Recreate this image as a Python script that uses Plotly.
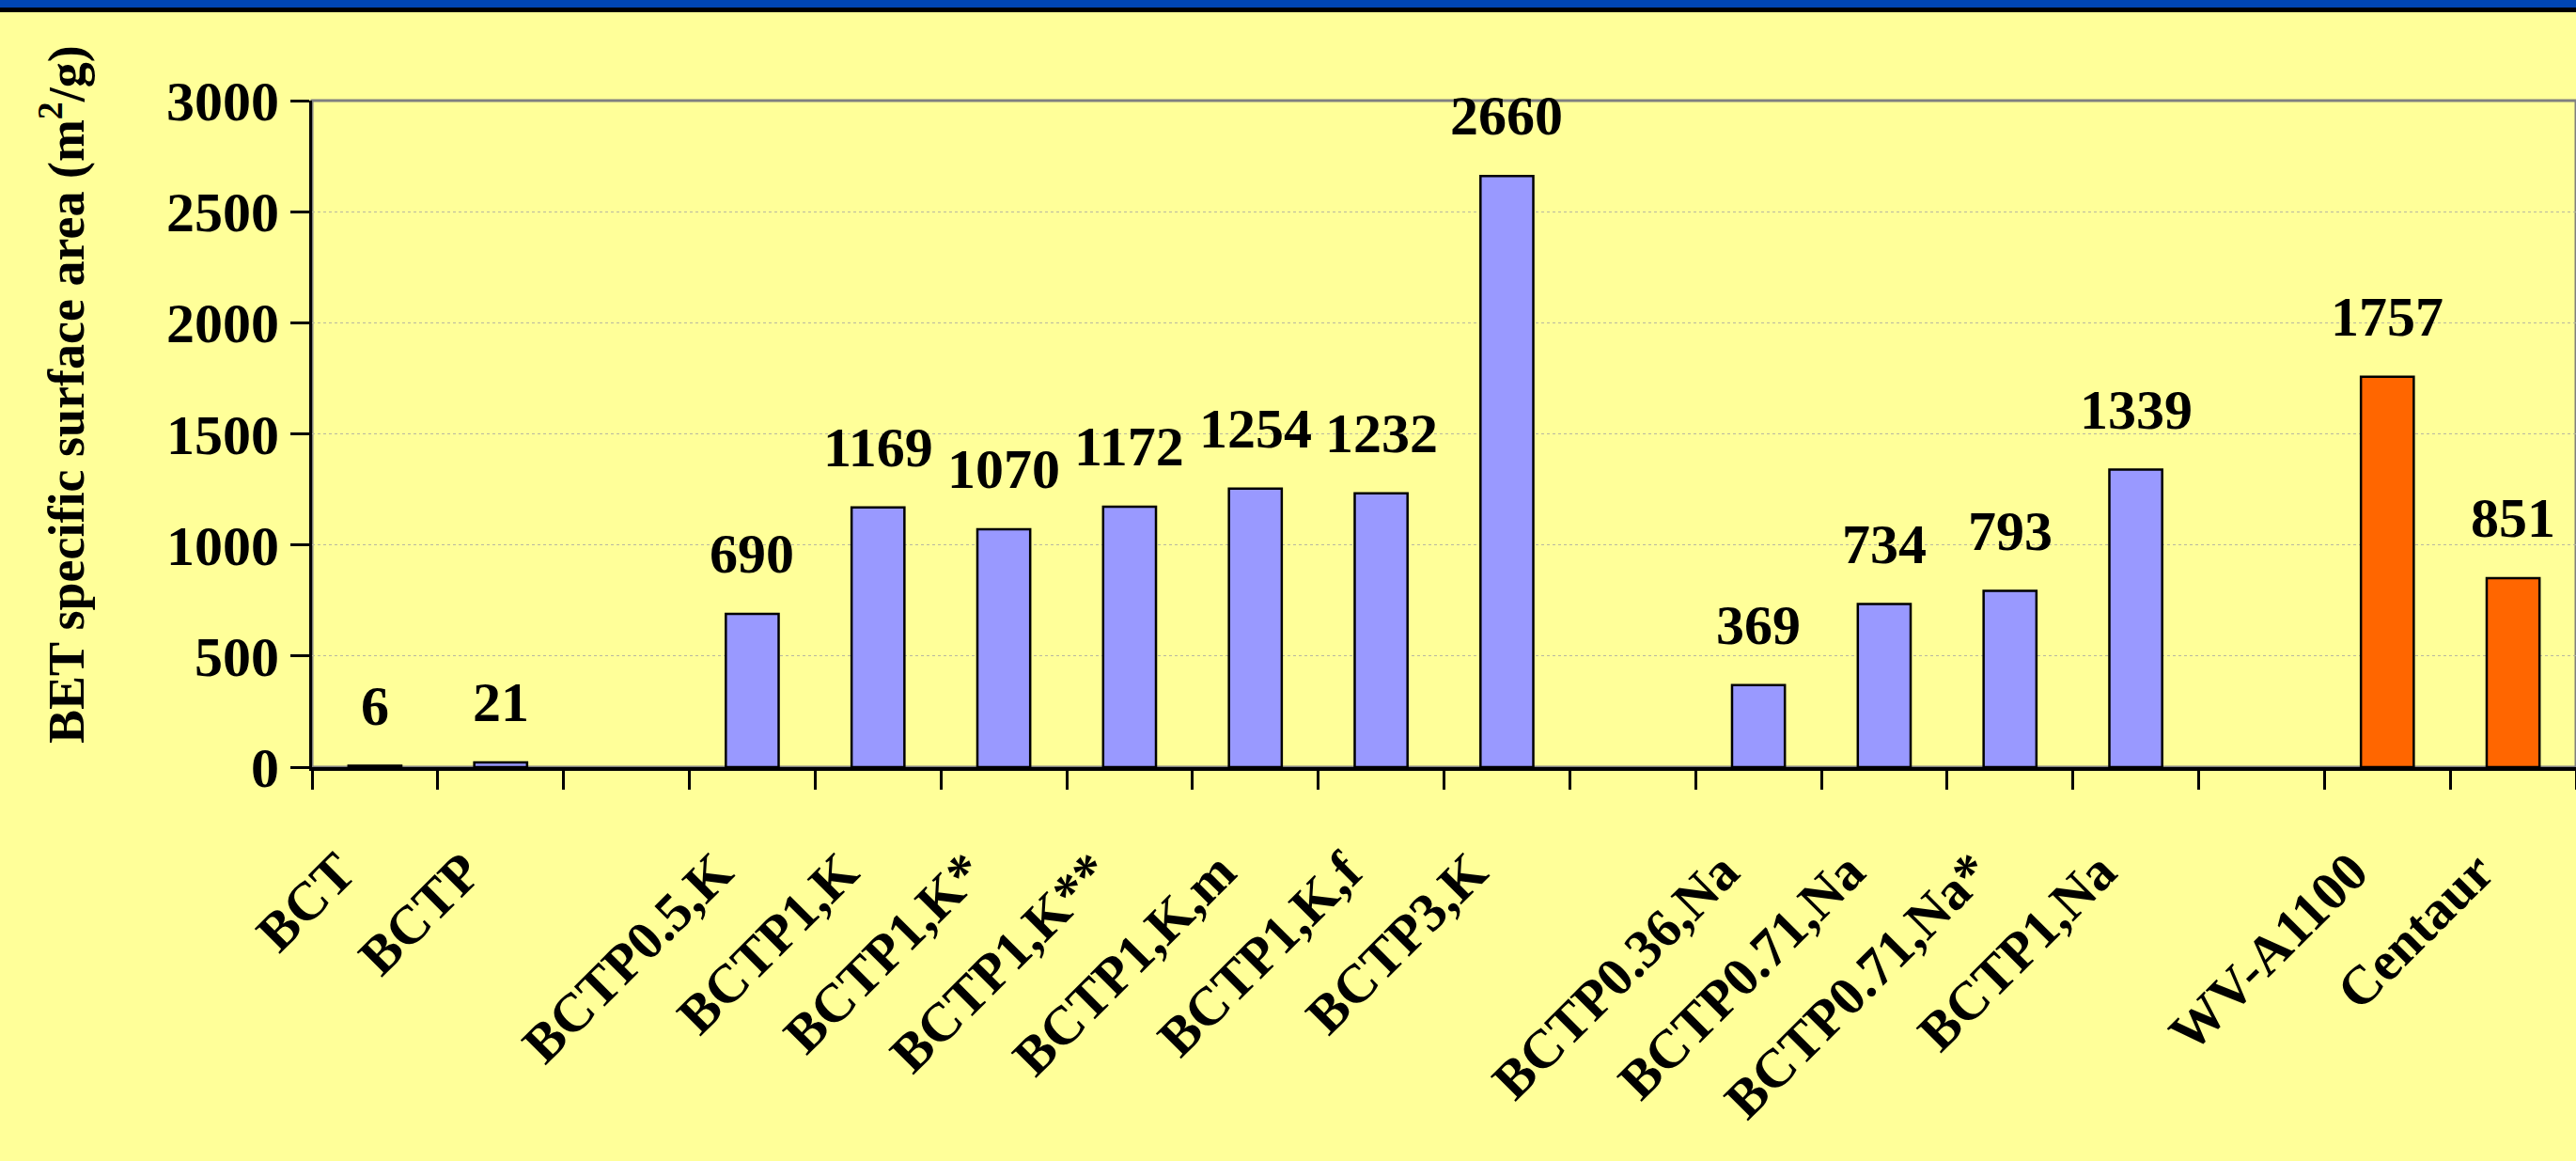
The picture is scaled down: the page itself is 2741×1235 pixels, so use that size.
import plotly.graph_objects as go

categories = ["BCT", "BCTP", " ", "BCTP0.5,K", "BCTP1,K", "BCTP1,K*", "BCTP1,K**",
              "BCTP1,K,m", "BCTP1,K,f", "BCTP3,K", "  ", "BCTP0.36,Na", "BCTP0.71,Na",
              "BCTP0.71,Na*", "BCTP1,Na", "   ", "WV-A1100", "Centaur"]
values = [6, 21, None, 690, 1169, 1070, 1172, 1254, 1232, 2660, None,
          369, 734, 793, 1339, None, 1757, 851]
groups = ["sample", "sample", None, "sample", "sample", "sample", "sample",
          "sample", "sample", "sample", None, "sample", "sample", "sample",
          "sample", None, "commercial", "commercial"]
y_ticks = [0, 500, 1000, 1500, 2000, 2500, 3000]

W, H = 2741, 1235
ML, MR, MT, MB = 332, 0, 107, 419
PW, PH = W - ML - MR, H - MT - MB

color_map = {"sample": "#9999FF", "commercial": "#FF6600", None: "#9999FF"}
bar_colors = [color_map[g] for g in groups]

FONT = "Liberation Serif, Times New Roman, serif"

fig = go.Figure()
fig.add_trace(go.Bar(
    x=categories, y=values,
    marker=dict(color=bar_colors, line=dict(color="black", width=2.5)),
    width=0.42, hoverinfo="skip",
))

annotations = []
for c, v in zip(categories, values):
    if v is None:
        continue
    annotations.append(dict(
        x=c, y=v, xref="x", yref="y", text=f"<b>{v}</b>", showarrow=False,
        yanchor="middle", yshift=64,
        font=dict(family=FONT, size=60, color="black"),
    ))

annotations.append(dict(
    x=(66 - ML) / PW, y=(MT + PH - 420) / PH, xref="paper", yref="paper",
    text="<b>BET specific surface area (m<sup>2</sup>/g)</b>", textangle=-90,
    showarrow=False, xanchor="center", yanchor="middle",
    font=dict(family=FONT, size=54, color="black"),
))

shapes = [
    dict(type="rect", xref="paper", yref="paper", x0=0, x1=1, y0=0, y1=1,
         line=dict(color="#808080", width=3), layer="below"),
    dict(type="rect", xref="paper", yref="paper",
         x0=-ML / PW, x1=1.001, y0=1 + (MT - 9) / PH, y1=1 + (MT + 2) / PH,
         fillcolor="#0046B4", line=dict(width=0)),
    dict(type="rect", xref="paper", yref="paper",
         x0=-ML / PW, x1=1.001, y0=1 + (MT - 13) / PH, y1=1 + (MT - 8) / PH,
         fillcolor="#000000", line=dict(width=0)),
]

fig.update_layout(
    width=W, height=H,
    margin=dict(l=ML, r=MR, t=MT, b=MB, pad=0),
    paper_bgcolor="#FFFF99", plot_bgcolor="#FFFF99",
    showlegend=False,
    annotations=annotations, shapes=shapes,
    font=dict(family=FONT, color="black"),
)
fig.update_xaxes(
    type="category", categoryorder="array", categoryarray=categories,
    tickangle=-45, tickson="boundaries", ticks="outside", ticklen=20,
    tickwidth=3, tickcolor="black", showline=True, linecolor="black",
    linewidth=4, showgrid=False, range=[-0.5, len(categories) - 0.5],
    ticklabelstandoff=50, ticklabelshift=-38,
    tickfont=dict(family=FONT, size=58, color="black", weight="bold"),
)
fig.update_yaxes(
    range=[0, 3000], tickvals=y_ticks, ticks="outside", ticklen=20,
    tickwidth=3, tickcolor="black", showline=True, linecolor="black",
    linewidth=3, showgrid=True, gridcolor="#B8B8A0", gridwidth=1,
    griddash="dot", zeroline=False,
    tickfont=dict(family=FONT, size=60, color="black", weight="bold"),
)

fig.write_html("out.html")
